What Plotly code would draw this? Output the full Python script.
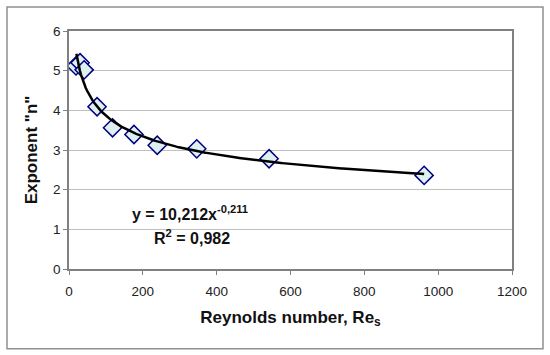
import numpy as np
import plotly.graph_objects as go

# Data
reynolds = [19, 30, 41, 76, 118, 176, 239, 346, 542, 962]
exponent_n = [5.12, 5.20, 5.02, 4.09, 3.56, 3.39, 3.12, 3.03, 2.78, 2.36]

# Power trendline as printed on the chart: y = 10,212 x^-0,211
fit_coef = 10.212
fit_power = -0.211
fit_x_range = [20, 962]

x_ticks = [0, 200, 400, 600, 800, 1000, 1200]
y_ticks = [0, 1, 2, 3, 4, 5, 6]

fx = np.linspace(fit_x_range[0], fit_x_range[1], 300)
fy = fit_coef * fx ** fit_power

FONT = "Arial, Liberation Sans, sans-serif"

fig = go.Figure()
fig.add_trace(go.Scatter(
    x=reynolds, y=exponent_n, mode="markers",
    marker=dict(symbol="diamond", size=14, color="#dff0f0",
                line=dict(color="#000080", width=1.5)),
    showlegend=False,
))
fig.add_trace(go.Scatter(
    x=fx, y=fy, mode="lines",
    line=dict(color="black", width=2.5),
    hoverinfo="skip", showlegend=False,
))

fig.update_layout(
    width=550, height=355,
    margin=dict(l=69, r=38, t=31, b=86),
    paper_bgcolor="white", plot_bgcolor="white",
    font=dict(family=FONT, size=13, color="#222222"),
    xaxis=dict(
        range=[0, 1200], tickvals=x_ticks, ticktext=[str(v) for v in x_ticks],
        showgrid=False, zeroline=False,
        showline=True, linecolor="#808080", linewidth=1.5, mirror=True,
        ticks="outside", ticklen=4, tickcolor="#808080",
        ticklabelstandoff=5,
        tickfont=dict(size=13.5, color="#222222"),
        title=dict(text="<b>Reynolds number, Re<sub>s</sub></b>",
                   font=dict(size=17, color="#111111"), standoff=13),
    ),
    yaxis=dict(
        range=[0, 6], tickvals=y_ticks, ticktext=[str(v) for v in y_ticks],
        showgrid=True, gridcolor="#c0c0c0", gridwidth=1, zeroline=False,
        showline=True, linecolor="#808080", linewidth=1.5, mirror=True,
        ticks="outside", ticklen=4, tickcolor="#808080",
        tickfont=dict(size=13.5, color="#222222"),
        title=dict(text="<b>Exponent \"n\"</b>",
                   font=dict(size=17, color="#111111"), standoff=11),
    ),
    annotations=[
        dict(x=165, y=1.40, xref="x", yref="y", xanchor="left", yanchor="middle",
             text="<b>y = 10,212x<sup>-0,211</sup></b>", showarrow=False,
             font=dict(size=16, color="#111111", family=FONT)),
        dict(x=225, y=0.81, xref="x", yref="y", xanchor="left", yanchor="middle",
             text="<b>R<sup>2</sup> = 0,982</b>", showarrow=False,
             font=dict(size=16, color="#111111", family=FONT)),
    ],
    shapes=[
        dict(type="rect", xref="paper", yref="paper",
             x0=(7 - 69) / 443, x1=(543 - 69) / 443,
             y0=(268.5 - 348) / 237.5, y1=(268.5 - 7) / 237.5,
             line=dict(color="#909090", width=1.5), fillcolor="rgba(0,0,0,0)",
             layer="below"),
    ],
)

fig.write_html("out.html", config={"displayModeBar": False},
               post_script="document.body.style.margin='0';")
